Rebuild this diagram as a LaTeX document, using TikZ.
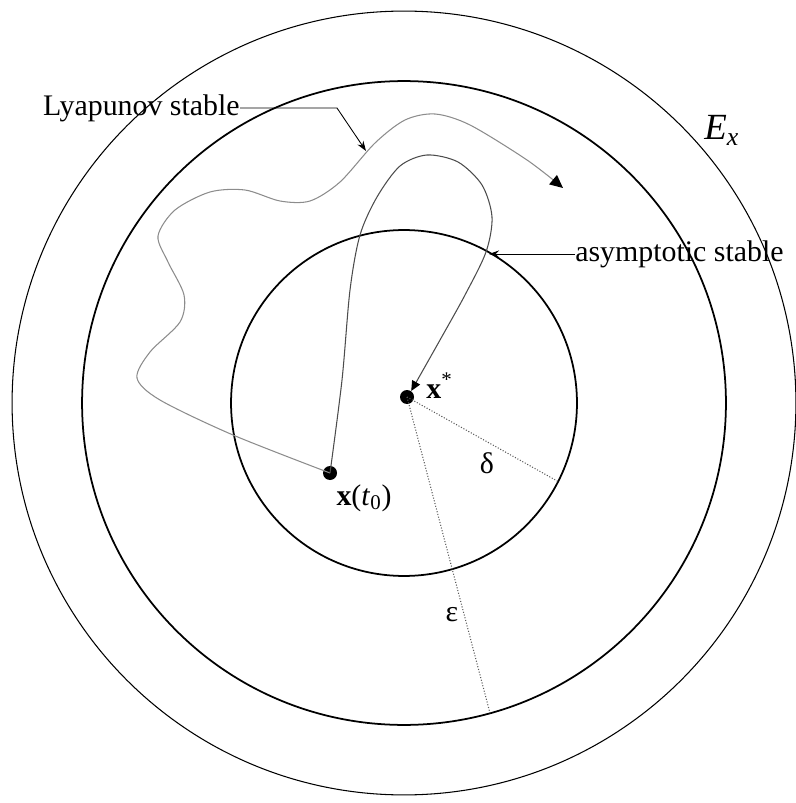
\documentclass[tikz,border=0pt]{standalone}
\usepackage{fontspec}
\setmainfont{Liberation Serif}
\usetikzlibrary{arrows.meta, positioning, calc}
\tikzset{
    ring/.style={draw, line width=1pt},
    outerring/.style={draw, line width=0.6pt},
    dot/.style={circle, fill=black, inner sep=0pt, minimum size=0.28cm},
    tag/.style={inner sep=0pt, font=\fontsize{17}{20}\selectfont},
    radline/.style={densely dotted, gray!70!black, line width=0.6pt},
    lyaptraj/.style={gray!90, line width=0.6pt, -{Triangle[length=2.6mm,width=2.4mm,color=black]}},
    asymtraj/.style={black!70, line width=0.6pt, -{Triangle[length=2mm,width=1.8mm,color=black]}},
    leader/.style={line width=0.5pt, -{Stealth[length=2mm,width=1.4mm]}}
}

\begin{document}
\begin{tikzpicture}[x=0.02cm, y=-0.02cm]
    \useasboundingbox (0,0) rectangle (795,803);
    \coordinate (o) at (404,403);
    \draw [outerring] (o) circle[radius=7.84cm];
    \draw [ring] (o) circle[radius=6.44cm];
    \draw [ring] (o) circle[radius=3.46cm];

    \node (xstar) [dot] at (407,397) {};
    \node (xt0) [dot] at (330,473) {};
    \coordinate (dtip) at ($(o)+(-27:3.46cm)$);
    \coordinate (etip) at ($(o)+(-74.5:6.44cm)$);
    \coordinate (lyapend) at (563,188);
    \coordinate (lyaptip) at (366,151);
    \coordinate (asymtip) at (489,254);

    \draw [radline] (xstar.center) -- (dtip);
    \draw [radline] (xstar.center) -- (etip);

    \draw [lyaptraj] plot[smooth] coordinates {(xt0.center) (233,435) (160,400) (137,378) (150,352) (180,322) (184,295) (168,262) (158,236) (175,210) (210,192) (245,190) (280,201) (310,201) (340,182) (375,143) (405,120) (435,114) (470,125) (527,160) (lyapend)};
    \draw [asymtraj] plot[smooth] coordinates {(xt0.center) (342,380) (350,290) (360,235) (377,197) (400,166) (427,155) (458,162) (482,185) (492,217) (486,252) (465,295) (440,340) (xstar.55)};

    \node (lyap) [tag, anchor=east] at (240,108) {Lyapunov stable};
    \node (asym) [tag, anchor=west] at (575,254) {asymptotic stable};
    \draw [leader] (lyap.east) -- ++(97,0) -- (lyaptip);
    \draw [leader] (asym.west) -- (asymtip);

    \node (ex) [tag, anchor=base west, font=\fontsize{21}{24}\selectfont] at (704,140) {\textit{E}\textsubscript{\textit{x}}};
    \node (xstarlbl) [tag, anchor=base west] at (426,398) {\textbf{x}\textsuperscript{*}};
    \node (xt0lbl) [tag, below right=0.12cm and 0.02cm of xt0] {\textbf{x}(\textit{t}\textsubscript{0})};
    \node (dlbl) [tag] at (487,463) {δ};
    \node (elbl) [tag] at (452,615) {ε};
\end{tikzpicture}
\end{document}
